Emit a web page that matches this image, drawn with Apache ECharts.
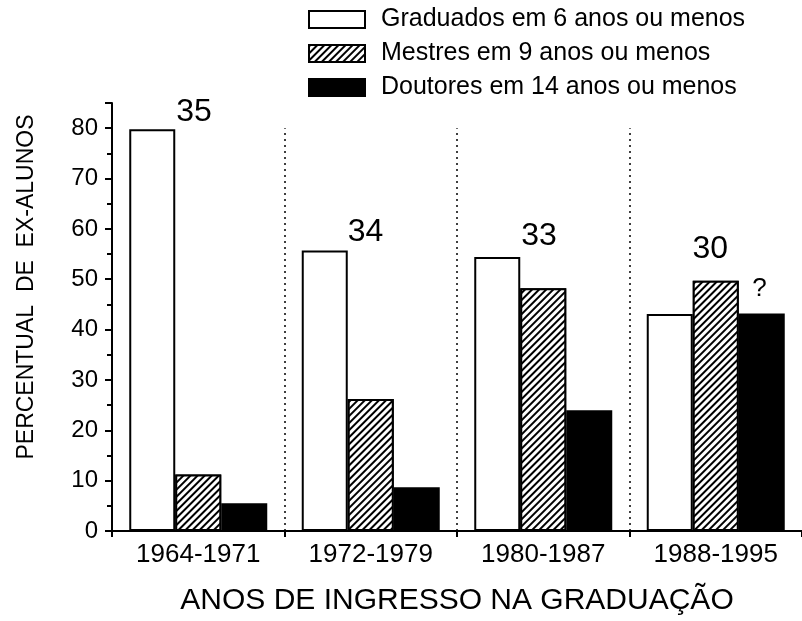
<!DOCTYPE html>
<html>
<head>
<meta charset="utf-8">
<script src="https://cdn.jsdelivr.net/npm/echarts@6/dist/echarts.min.js"></script>
<style>
  html, body { margin: 0; padding: 0; background: #fff; }
  #chart { width: 802px; height: 621px; }
</style>
</head>
<body>
<div id="chart"></div>
<script>
// dados
var categorias = ['1964-1971', '1972-1979', '1980-1987', '1988-1995'];
var graduados = [79.8, 55.7, 54.4, 43.1];
var mestres = [11.2, 26.2, 48.2, 49.7];
var doutores = [5.5, 8.7, 24.0, 43.2];

// anotações acima das barras (posição no eixo auxiliar 0..4)
var notaTexto = ['35', '34', '33', '30', '?'];
var notaX = [0.476, 1.47, 2.476, 3.468, 3.753];
var notaY = [83.2, 59.4, 58.5, 55.9, 48.0];

// separadores pontilhados entre os grupos
var separadorX = [1, 2, 3];
var separadorTopo = 80;

var fonte = 'Liberation Sans, Arial, sans-serif';
var chart = echarts.init(document.getElementById('chart'));

var notas = notaTexto.map(function (t, i) {
  return {
    value: [notaX[i], notaY[i]],
    name: t,
    label: { fontSize: t === '?' ? 26 : 32 }
  };
});

var linhas = separadorX.map(function (x) {
  return [{ coord: [x, 0] }, { coord: [x, separadorTopo] }];
});

chart.setOption({
  animation: false,
  textStyle: { fontFamily: fonte, color: '#000' },
  grid: { left: 112, right: -6, top: 103, bottom: 89 },
  legend: {
    orient: 'vertical',
    left: 303,
    top: 2,
    itemWidth: 56,
    itemHeight: 17,
    itemGap: 9,
    icon: 'rect',
    selectedMode: false,
    textStyle: { fontSize: 25, color: '#000', fontFamily: fonte, padding: [0, 0, 0, 11] },
    data: ['Graduados em 6 anos ou menos', 'Mestres em 9 anos ou menos', 'Doutores em 14 anos ou menos']
  },
  xAxis: [{
    type: 'category',
    data: categorias,
    boundaryGap: true,
    axisLine: { lineStyle: { color: '#000', width: 2 } },
    axisTick: { show: true, length: 6, lineStyle: { color: '#000', width: 2 } },
    axisLabel: { fontSize: 26, color: '#000', margin: 11, fontFamily: fonte },
    name: 'ANOS DE INGRESSO NA GRADUAÇÃO',
    nameLocation: 'middle',
    nameGap: 55,
    nameTextStyle: { fontSize: 30, color: '#000', fontFamily: fonte }
  }, {
    type: 'value',
    min: 0,
    max: 4,
    show: false
  }],
  yAxis: {
    type: 'value',
    min: 0,
    max: 85,
    interval: 10,
    axisLine: { show: true, lineStyle: { color: '#000', width: 2 } },
    axisTick: { show: true, length: 7, lineStyle: { color: '#000', width: 2 } },
    minorTick: { show: true, splitNumber: 2, length: 5, lineStyle: { color: '#000', width: 2 } },
    splitLine: { show: false },
    axisLabel: {
      fontSize: 24, color: '#000', margin: 14, fontFamily: fonte,
      formatter: function (v) { return v % 10 === 0 ? v : ''; }
    },
    name: 'PERCENTUAL  DE  EX-ALUNOS',
    nameLocation: 'middle',
    nameGap: 74,
    nameTextStyle: { fontSize: 23, color: '#000', fontFamily: fonte, padding: [0, 0, 0, 60] }
  },
  series: [{
    name: 'Graduados em 6 anos ou menos',
    type: 'bar',
    data: graduados,
    barWidth: 46,
    barGap: '0%',
    itemStyle: { color: '#fff', borderColor: '#000', borderWidth: 2 }
  }, {
    name: 'Mestres em 9 anos ou menos',
    type: 'bar',
    data: mestres,
    barWidth: 46,
    barGap: '0%',
    itemStyle: {
      color: '#fff', borderColor: '#000', borderWidth: 2,
      decal: {
        symbol: 'rect', symbolSize: 1,
        dashArrayX: [1, 0], dashArrayY: [2, 3],
        rotation: -Math.PI / 4,
        color: '#000', backgroundColor: '#fff'
      }
    }
  }, {
    name: 'Doutores em 14 anos ou menos',
    type: 'bar',
    data: doutores,
    barWidth: 46,
    barGap: '0%',
    itemStyle: { color: '#000', borderColor: '#000', borderWidth: 2 }
  }, {
    type: 'scatter',
    xAxisIndex: 1,
    data: notas,
    symbolSize: 0,
    silent: true,
    itemStyle: { opacity: 1 },
    label: {
      show: true,
      position: 'inside',
      color: '#000',
      opacity: 1,
      fontFamily: fonte,
      formatter: function (p) { return p.name; }
    },
    markLine: {
      silent: true,
      symbol: 'none',
      label: { show: false },
      lineStyle: { color: '#000', width: 1.5, type: [2, 4], opacity: 1 },
      data: linhas
    }
  }]
});
</script>
</body>
</html>
